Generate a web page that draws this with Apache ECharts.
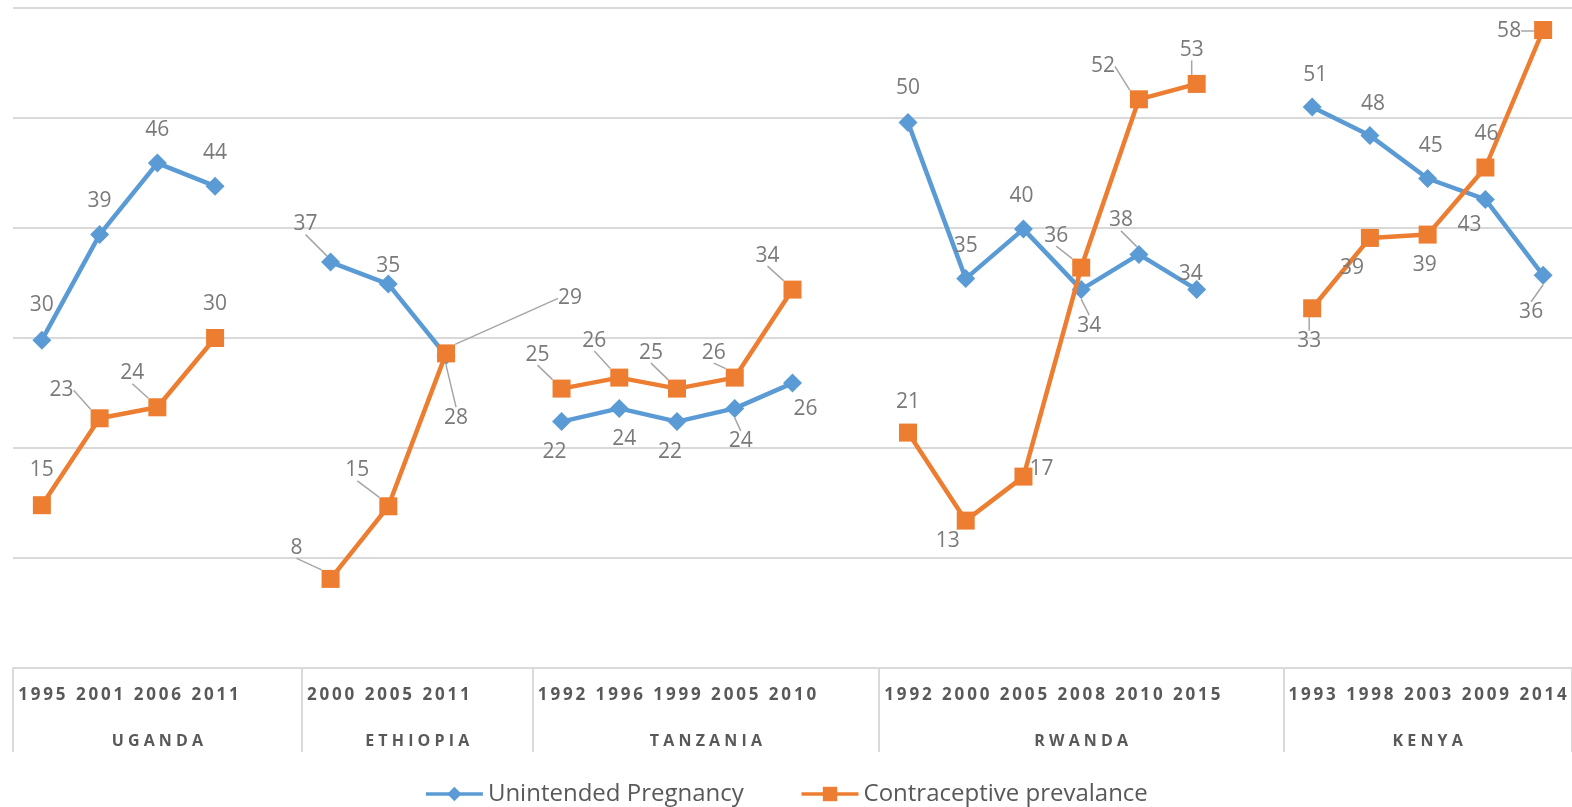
<!DOCTYPE html>
<html>
<head>
<meta charset="utf-8">
<script src="https://cdn.jsdelivr.net/npm/echarts@6/dist/echarts.min.js"></script>
<style>
  html, body { margin: 0; padding: 0; background: #fff; }
  #chart { width: 1572px; height: 807px; }
</style>
</head>
<body>
<div id="chart"></div>
<script>
// survey years per country, one blank slot between countries
const years = ['1995', '2001', '2006', '2011', '',
  '2000', '2005', '2011', '',
  '1992', '1996', '1999', '2005', '2010', '',
  '1992', '2000', '2005', '2008', '2010', '2015', '',
  '1993', '1998', '2003', '2009', '2014']
const countries = ['UGANDA', 'ETHIOPIA', 'TANZANIA', 'RWANDA', 'KENYA']
const countrySizes = [4, 3, 5, 6, 5]

const unintended = [29.8, 39.4, 45.9, 43.8, null,
  36.9, 34.9, 28.4, null,
  22.4, 23.6, 22.4, 23.6, 25.9, null,
  49.6, 35.4, 39.9, 34.4, 37.6, 34.4, null,
  51.0, 48.4, 44.5, 42.6, 35.7]
const contraceptive = [14.8, 22.7, 23.7, 30.0, null,
  8.1, 14.7, 28.6, null,
  25.4, 26.4, 25.4, 26.4, 34.4, null,
  21.4, 13.4, 17.4, 36.4, 51.7, 53.1, null,
  32.7, 39.1, 39.4, 45.5, 58.0]

// label placement (dx, dy from the point) and whether a leader line shows
const upLabelOffsets = [[0, -35], [0, -34], [0, -33], [0, -33],
  [-25, -38], [0, -18], [10, 62],
  [-7, 30], [5, 31], [-7, 30], [6, 33], [13, 26],
  [0, -34], [0, -33], [-2, -33], [8, 36], [-18, -34], [-6, -16],
  [3, -32], [3, -32], [3, -32], [-16, 26], [-12, 37]]
const upLeaders = [0, 0, 0, 0, 1, 0, 1, 0, 0, 0, 1, 0, 0, 0, 0, 1, 1, 0, 0, 0, 0, 0, 1]
const cpLabelOffsets = [[0, -35], [-38, -28], [-25, -34], [0, -34],
  [-34, -31], [-31, -36], [124, -55],
  [-24, -34], [-25, -37], [-26, -36], [-21, -25], [-25, -34],
  [0, -31], [-18, 20], [18, -8], [-25, -32], [-36, -33], [-5, -34],
  [-3, 33], [-18, 30], [-3, 30], [1, -33], [-34, 1]]
const cpLeaders = [0, 1, 1, 0, 1, 1, 1, 1, 1, 1, 1, 1, 0, 0, 0, 1, 1, 1, 1, 0, 0, 0, 1]

// spread characters a little, like the tracked text in the original
function spaced(s, sep) {
  return s.split('').join(sep)
}

// group bounds on a -0.5..26.5 scale
const bounds = [-0.5]
const centers = []
let pos = -0.5
countrySizes.forEach((n, i) => {
  const span = i < countrySizes.length - 1 ? n + 1 : n
  centers.push(pos + span / 2)
  pos += span
  bounds.push(pos)
})

function buildSeries(values, offsets, leaders) {
  const offs = []
  const data = []
  let k = 0
  values.forEach(v => {
    if (v === null) {
      offs.push(null)
      data.push(null)
    } else {
      offs.push(offsets[k])
      data.push({ value: v, labelLine: { show: !!leaders[k] } })
      k++
    }
  })
  return { data, offs }
}

const up = buildSeries(unintended, upLabelOffsets, upLeaders)
const cp = buildSeries(contraceptive, cpLabelOffsets, cpLeaders)

const chart = echarts.init(document.getElementById('chart'))

const labelStyle = {
  show: true,
  position: 'inside',
  color: '#7a7a7a',
  fontSize: 21,
  fontFamily: 'Open Sans',
  formatter: p => Math.round(p.value)
}

const option = {
  animation: false,
  textStyle: { fontFamily: 'Open Sans' },
  grid: { left: 13, right: -2, top: 8, bottom: 139 },
  legend: {
    top: 777,
    left: 'center',
    itemWidth: 57,
    itemHeight: 18,
    itemGap: 56,
    lineStyle: { width: 3.5 },
    textStyle: { color: '#595959', fontSize: 24, fontFamily: 'Open Sans' },
    data: ['Unintended Pregnancy', 'Contraceptive prevalance']
  },
  xAxis: [
    {
      type: 'category',
      data: years,
      boundaryGap: true,
      offset: 0,
      axisLine: { lineStyle: { color: '#d9d9d9', width: 2 } },
      axisTick: { show: false },
      axisLabel: {
        interval: 0,
        margin: 19,
        color: '#595959',
        fontWeight: 'bold',
        fontSize: 17,
        formatter: v => spaced(v, '\u2009')
      }
    },
    {
      type: 'value',
      position: 'bottom',
      offset: 0,
      min: -0.5,
      max: 26.5,
      axisLine: { show: false },
      splitLine: { show: false },
      axisTick: {
        show: true,
        length: 84,
        customValues: bounds,
        lineStyle: { color: '#d9d9d9', width: 2 }
      },
      axisLabel: {
        margin: 65,
        color: '#595959',
        fontWeight: 'bold',
        fontSize: 16,
        customValues: centers,
        formatter: v => {
          const i = centers.findIndex(c => Math.abs(c - v) < 1e-6)
          return i >= 0 ? spaced(countries[i], ' ') : ''
        }
      }
    }
  ],
  yAxis: {
    type: 'value',
    min: 0,
    max: 60,
    interval: 10,
    axisLabel: { show: false },
    axisLine: { show: false },
    axisTick: { show: false },
    splitLine: { lineStyle: { color: '#d9d9d9', width: 2 } }
  },
  series: [
    {
      name: 'Unintended Pregnancy',
      type: 'line',
      data: up.data,
      connectNulls: false,
      symbol: 'diamond',
      symbolSize: 19,
      itemStyle: { color: '#5B9BD5' },
      lineStyle: { color: '#5B9BD5', width: 4.5 },
      label: labelStyle,
      labelLine: { lineStyle: { color: '#a6a6a6', width: 1.5 } },
      labelLayout: p => {
        const o = up.offs[p.dataIndex]
        return o ? { dx: o[0], dy: o[1] } : {}
      },
      z: 2
    },
    {
      name: 'Contraceptive prevalance',
      type: 'line',
      data: cp.data,
      connectNulls: false,
      symbol: 'rect',
      symbolSize: 18,
      itemStyle: { color: '#ED7D31' },
      lineStyle: { color: '#ED7D31', width: 4.5 },
      label: labelStyle,
      labelLine: { lineStyle: { color: '#a6a6a6', width: 1.5 } },
      labelLayout: p => {
        const o = cp.offs[p.dataIndex]
        return o ? { dx: o[0], dy: o[1] } : {}
      },
      z: 3
    }
  ]
}

chart.setOption(option)
</script>
</body>
</html>
